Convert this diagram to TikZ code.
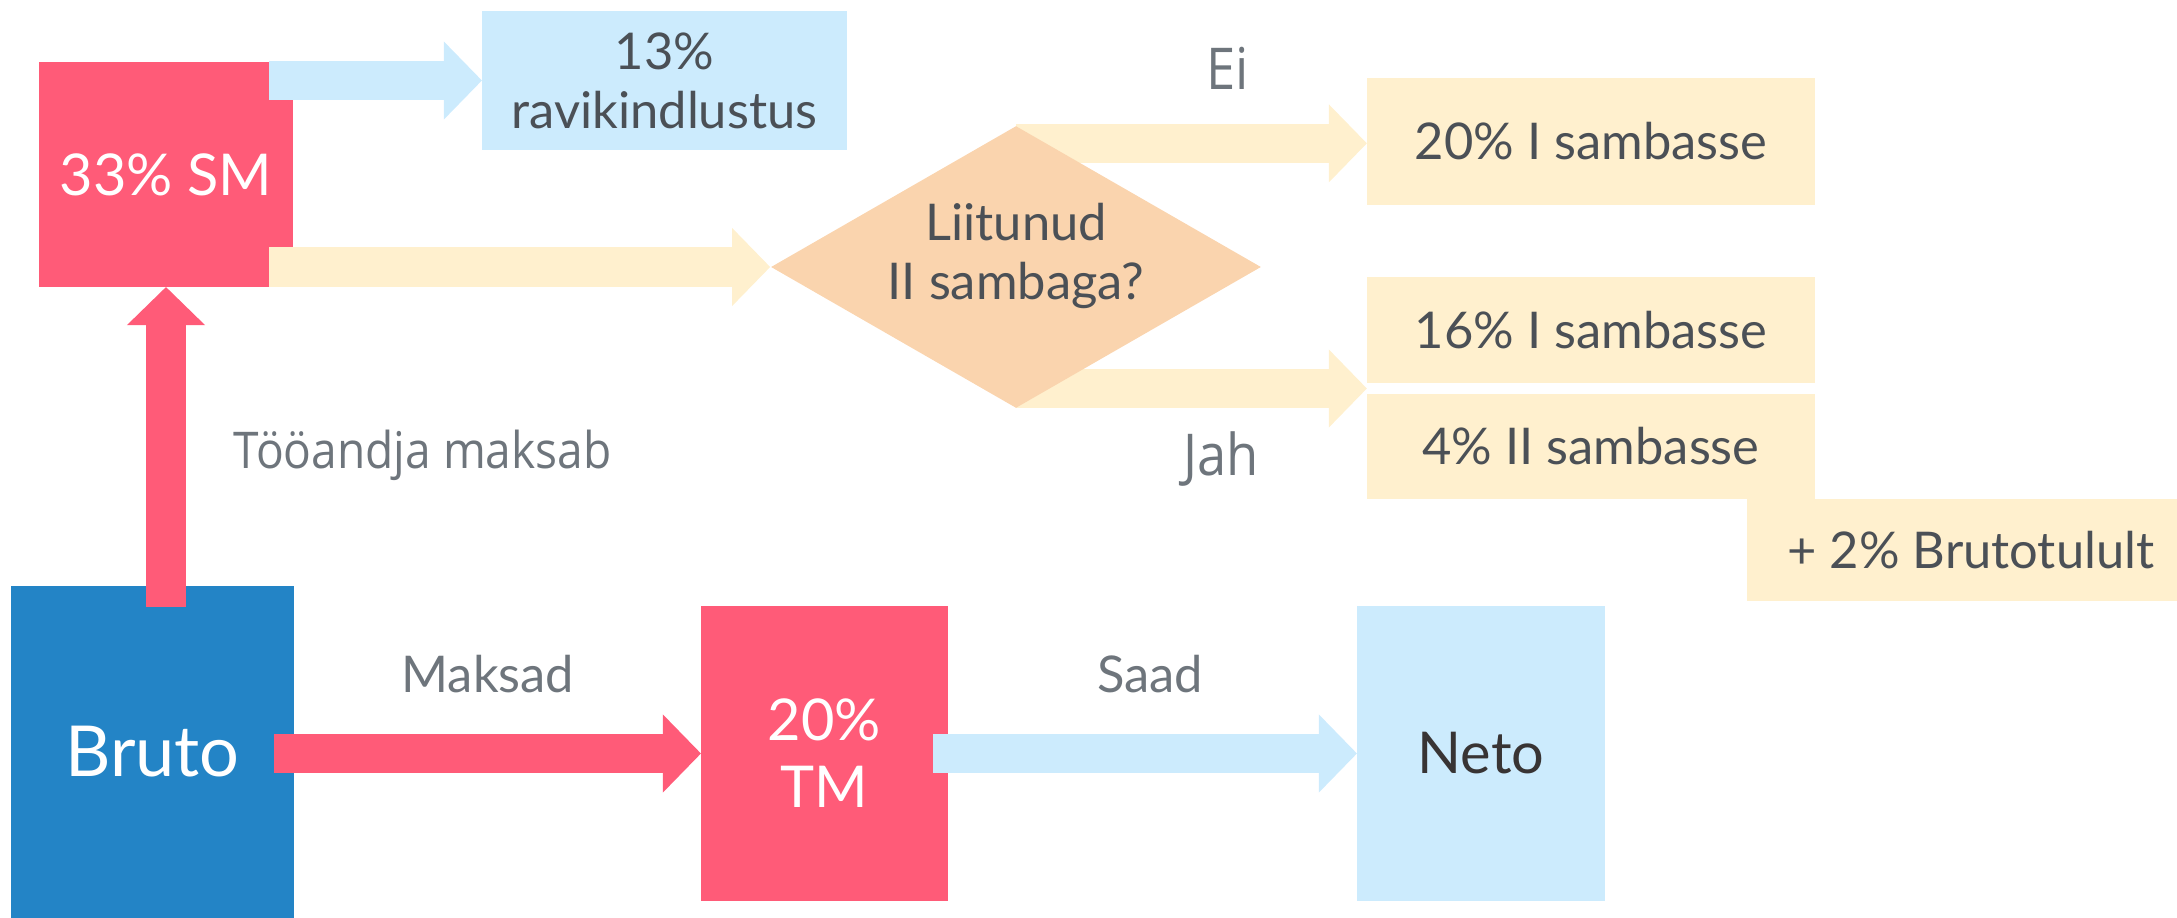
\documentclass[tikz,border=0pt]{standalone}
\usepackage{fontspec}
\setmainfont{Lato}
\newfontfamily\osans[FakeStretch=0.91]{Open Sans}
\usetikzlibrary{shapes.geometric,arrows.meta,calc,backgrounds}
\definecolor{cred}{HTML}{FF5B78}
\definecolor{cblue}{HTML}{2384C6}
\definecolor{clblue}{HTML}{CCEBFD}
\definecolor{cyellow}{HTML}{FFF0CE}
\definecolor{cpeach}{HTML}{FAD4AE}
\definecolor{ctext}{HTML}{4B5056}
\definecolor{clabel}{HTML}{6E757C}
\definecolor{cneto}{HTML}{383434}
\newcommand\fsmall{\fontsize{14.4pt}{16.8pt}\selectfont}
\newcommand\fmed{\fontsize{16.4pt}{19pt}\selectfont}
\newcommand\fbig{\fontsize{20pt}{23pt}\selectfont}
\tikzset{
  box/.style={rectangle, inner sep=0pt, outer sep=0pt, align=center},
  blockarrow/.style={line width=0.39cm, -{Triangle[length=0.38cm,width=0.78cm,line width=0pt]}},
  lbl/.style={text=clabel, inner sep=0pt},
  olbl/.style={text=clabel, inner sep=0pt, font=\osans\fsmall},
}
\begin{document}
\begin{tikzpicture}[x=0.01cm,y=-0.01cm]
\useasboundingbox (0,0) rectangle (2177,918);
% boxes
\node[box, fill=cred, text=white, minimum width=2.54cm, minimum height=2.25cm, font=\fmed] (sm) at (166,174.5) {33\% SM};
\node[box, fill=clblue, text=ctext, minimum width=3.65cm, minimum height=1.39cm, font=\fsmall] (b13) at (664.5,80.5) {13\%\\ravikindlustus};
\node[box, fill=cblue, text=white, minimum width=2.83cm, minimum height=3.32cm, font=\fbig] (bruto) at (152.5,752) {Bruto};
\node[box, fill=cred, text=white, minimum width=2.47cm, minimum height=2.95cm, font=\fmed] (tm) at (824.5,753.5) {20\%\\TM};
\node[box, fill=clblue, text=cneto, minimum width=2.48cm, minimum height=2.95cm, font=\fmed] (neto) at (1481,753.5) {Neto};
\node[diamond, fill=cpeach, inner sep=0pt, aspect=1.7376, minimum width=4.90cm, minimum height=2.82cm] (dia) at (1016,267) {};
\node[box, text=ctext, font=\fsmall] (diatext) at (1016,256) {Liitunud\\II sambaga?};
\node[box, fill=cyellow, text=ctext, minimum width=4.48cm, minimum height=1.273cm, font=\fsmall] (b20) at (1591,141.35) {20\% I sambasse};
\node[box, fill=cyellow, text=ctext, minimum width=4.48cm, minimum height=1.06cm, font=\fsmall] (b16) at (1591,330) {16\% I sambasse};
\node[box, fill=cyellow, text=ctext, minimum width=4.48cm, minimum height=1.05cm, font=\fsmall] (b4) at (1591,446.5) {4\% II sambasse};
\node[box, fill=cyellow, text=ctext, minimum width=4.48cm, minimum height=1.02cm, font=\fsmall] (bbt) at (1971,550) {+ 2\% Brutotulult};
% labels
\node[olbl, anchor=base west] (tooandja) at (233,468) {Tööandja maksab};
\node[olbl, anchor=base west, font=\osans\fmed] (ei) at (1206,89) {Ei};
\node[olbl, anchor=base west, font=\osans\fmed] (jah) at (1183,475) {Jah};
\node[lbl, anchor=base, font=\fsmall] (maksad) at (488,692) {Maksad};
\node[lbl, anchor=base, font=\fsmall] (saad) at (1150,692) {Saad};
% connectors
\coordinate (eitip) at ([yshift=-0.02cm]b20.west);
\coordinate (jahtip) at ($(b16.south west)!0.5!(b4.north west)$);
\draw[blockarrow, draw=clblue] ([xshift=-0.24cm]sm.east |- b13.west) -- (b13.west);
\draw[blockarrow, draw=cyellow] ([xshift=-0.24cm]sm.east |- dia.west) -- (dia.west);
\draw[blockarrow, draw=cred] ([yshift=-0.21cm]sm.south |- bruto.north) -- (sm.south);
\draw[blockarrow, draw=cred] ([xshift=-0.20cm]bruto.east |- tm.west) -- (tm.west);
\draw[blockarrow, draw=clblue] ([xshift=-0.15cm]tm.east) -- (neto.west);
\begin{pgfonlayer}{background}
\draw[blockarrow, draw=cyellow] (dia.center |- eitip) -- (eitip);
\draw[blockarrow, draw=cyellow] (dia.center |- jahtip) -- (jahtip);
\end{pgfonlayer}
\end{tikzpicture}
\end{document}
